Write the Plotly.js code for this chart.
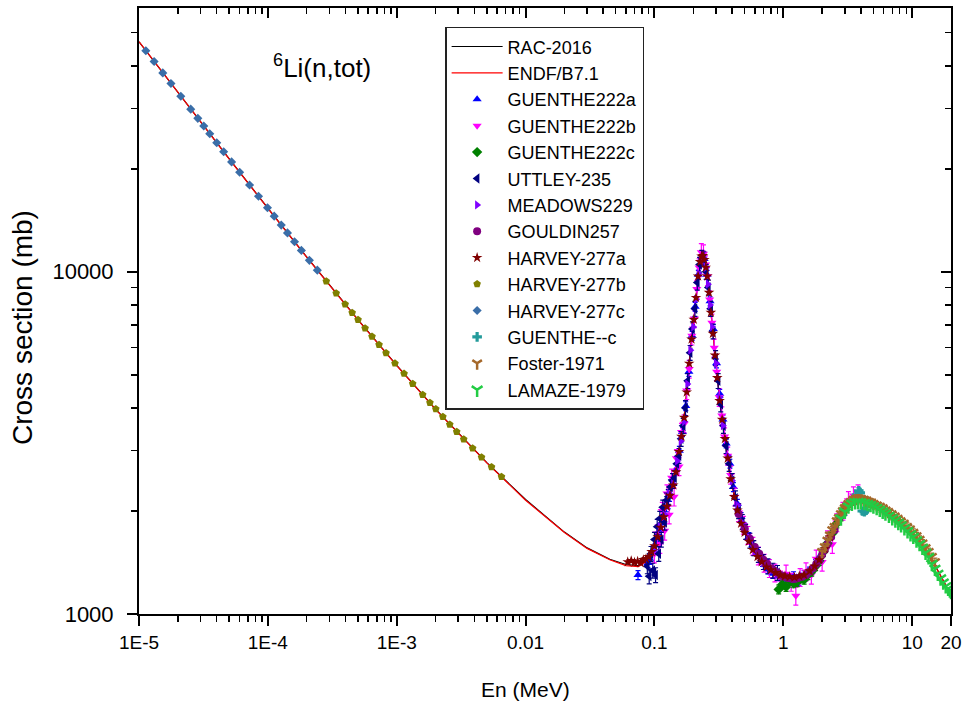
<!DOCTYPE html>
<html>
<head>
<meta charset="utf-8">
<script src="https://cdn.plot.ly/plotly-3.0.1.min.js"></script>
<style>
html,body{margin:0;padding:0;background:#fff;}
#chart{width:968px;height:707px;}
</style>
</head>
<body>
<div id="chart"></div>
<script>
// ---------- evaluated curves ----------
const curveE = [1e-5,2e-5,5e-5,1e-4,2e-4,5e-4,1e-3,2e-3,5e-3,0.01,0.02,0.03,0.045,0.06,0.075,0.09,0.1,0.11,0.12,0.13,0.144,0.157,0.172,0.181,0.191,0.205,0.216,0.225,0.235,0.245,0.259,0.282,0.309,0.343,0.389,0.466,0.597,0.795,1.0,1.13,1.45,1.83,2.19,2.61,3.29,3.94,5.05,7.6,10.9,14.7,18.5,20];
const racSigma = [47000,33440,21400,15340,11050,7250,5330,3970,2770,2160,1735,1560,1445,1395,1385,1440,1560,1750,1970,2180,2460,3080,3870,4830,6040,7590,9480,10700,11200,10800,9480,6760,4830,3450,2470,1850,1510,1345,1295,1283,1300,1410,1614,1846,2112,2154,2055,1884,1646,1409,1200,1165];
const endfSigma = [47050,33400,21380,15330,11040,7240,5320,3960,2765,2150,1730,1555,1440,1385,1375,1435,1555,1745,1965,2175,2455,3075,3860,4820,6030,7580,9470,10690,11190,10790,9470,6750,4820,3445,2465,1848,1508,1343,1293,1281,1298,1408,1612,1844,2110,2150,2052,1880,1643,1405,1198,1162];

// ---------- experimental data ----------
const harvey277cE = [1.13e-5,1.31e-5,1.53e-5,1.77e-5,2.11e-5,2.52e-5,2.86e-5,3.18e-5,3.54e-5,4.01e-5,4.54e-5,5.23e-5,6.04e-5,7.21e-5,8.46e-5,9.93e-5,1.12e-4,1.27e-4,1.42e-4,1.61e-4,1.82e-4,2.10e-4,2.42e-4];
const harvey277cS = [44250,41150,38130,35500,32570,29870,28080,26660,25310,23820,22430,20950,19540,17940,16620,15390,14540,13690,12990,12240,11550,10800,10110];

const harvey277bE = [2.84e-4,3.39e-4,3.98e-4,4.51e-4,5.01e-4,5.68e-4,6.43e-4,7.29e-4,8.26e-4,9.69e-4,1.14e-3,1.33e-3,1.59e-3,1.81e-3,2.01e-3,2.28e-3,2.58e-3,2.92e-3,3.31e-3,3.88e-3,4.55e-3,5.44e-3,6.50e-3];
const harvey277bS = [9390,8650,8040,7590,7240,6840,6470,6120,5790,5400,5040,4710,4370,4140,3970,3770,3580,3410,3240,3050,2870,2690,2520];

const harvey277aE = [0.062,0.066,0.07,0.074,0.078,0.082,0.086,0.09,0.095,0.1,0.106,0.112,0.118,0.125,0.132,0.14,0.147,0.155,0.162,0.17,0.178,0.186,0.194,0.202,0.21,0.218,0.226,0.232,0.238,0.244,0.25,0.257,0.265,0.274,0.284,0.295,0.307,0.32,0.335,0.352,0.37,0.39,0.415,0.44,0.47,0.5,0.54,0.58,0.63,0.68,0.74,0.8,0.87,0.95,1.03,1.12,1.22,1.33,1.45,1.6,1.75,1.9,2.1,2.3];
const harvey277aS = [1420,1430,1415,1425,1410,1440,1450,1470,1520,1580,1680,1790,1920,2060,2220,2380,2600,2980,3300,3750,4450,5400,6350,7250,8400,9700,10700,11100,11150,10850,10300,9700,8700,7600,6600,5700,4900,4200,3700,3250,2850,2480,2200,2010,1840,1730,1630,1540,1470,1420,1370,1345,1320,1300,1290,1285,1280,1290,1300,1335,1380,1440,1550,1680];

const uttleyE = [0.088,0.091,0.094,0.097,0.1,0.102,0.105,0.108,0.11,0.113,0.116,0.12,0.124,0.128,0.133,0.138,0.143,0.149,0.155,0.161,0.167,0.174,0.181,0.189,0.197,0.206,0.215,0.224,0.233,0.242,0.252,0.262,0.273,0.285,0.298,0.312,0.327,0.343,0.36,0.38,0.4,0.425,0.45,0.48,0.51,0.55,0.59,0.64,0.7,0.76,0.83,0.9];
const uttleyS = [1380,1290,1500,1340,1650,1300,1800,1500,1900,1650,2050,1850,2150,2200,2350,2450,2500,2750,2900,3250,3550,4000,4800,5800,6800,7800,9300,10500,11000,10900,10000,9000,7800,6700,5600,4800,4100,3550,3100,2750,2450,2180,2000,1860,1740,1640,1560,1490,1420,1380,1340,1320];

const guenthe222bE = [0.1,0.105,0.11,0.115,0.12,0.125,0.13,0.136,0.142,0.148,0.155,0.162,0.17,0.178,0.186,0.195,0.204,0.213,0.222,0.231,0.24,0.249,0.258,0.268,0.279,0.291,0.304,0.318,0.333,0.35,0.37,0.39,0.42,0.45,0.49,0.53,0.58,0.64,0.71,0.78,0.86,0.95,1.05,1.15,1.25,1.35,1.5,1.65,1.8,2.0,2.2,2.4,2.6,2.9,3.2,3.5,3.8];
const guenthe222bS = [1500,1720,1600,2000,1750,2250,1950,2500,2200,2850,2700,3400,3600,4500,5200,6500,7300,8900,10300,11400,11300,10500,9700,8300,7100,6000,5100,4300,3800,3300,2900,2550,2200,1980,1820,1700,1580,1480,1410,1360,1320,1260,1310,1240,1130,1280,1330,1300,1450,1420,1650,1600,1850,2000,2150,2220,2250];

const guenthe222aE = [0.0745,0.089,0.092,0.098,0.104,0.11,0.117,0.124,0.131,0.139,0.147,0.156,0.165,0.175,0.185,0.196,0.207,0.219,0.231,0.243,0.256,0.27,0.286,0.303,0.321,0.34,0.36,0.385,0.41,0.44,0.47,0.5,0.54,0.58,0.63,0.69,0.76,0.83,0.91,1.0,1.1,1.2,1.32,1.45,1.6,1.78,1.98,2.2,2.45,2.7,3.0];
const guenthe222aS = [1300,1410,1450,1540,1620,1760,1880,2050,2200,2400,2650,3000,3400,4050,5100,6500,7900,9800,10900,10900,9800,8200,6800,5400,4400,3700,3150,2750,2350,2100,1920,1790,1680,1590,1500,1420,1350,1310,1290,1280,1260,1290,1250,1300,1330,1400,1500,1630,1760,1900,2000];

const meadowsE = [0.1,0.11,0.12,0.13,0.14,0.15,0.16,0.17,0.18,0.19,0.2,0.21,0.22,0.23,0.24,0.25,0.26,0.27,0.28,0.3,0.32,0.34,0.37,0.4,0.44,0.48,0.53,0.6,0.7,0.8,0.9,1.0,1.1,1.2,1.3,1.4,1.5];
const meadowsS = [1540,1800,1950,2250,2400,2800,3200,3650,4700,5900,6900,8300,9900,10900,11000,10300,9200,8000,6900,5400,4300,3550,2900,2450,2080,1850,1680,1520,1410,1340,1310,1290,1280,1270,1275,1290,1300];

const gouldinE = [0.45,0.5,0.55,0.6,0.65,0.7,0.75,0.8,0.85,0.9,0.95,1.0,1.05,1.1,1.15,1.2,1.25,1.3,1.4,1.5,1.6,1.7,1.8,1.9,2.0,2.1,2.2,2.35,2.5];
const gouldinS = [1960,1780,1660,1570,1500,1440,1400,1360,1340,1320,1300,1290,1280,1275,1270,1265,1270,1275,1285,1300,1330,1360,1400,1440,1490,1540,1600,1680,1760];

const guenthe222cE = [0.92,0.98,1.05,1.12,1.2,1.28,1.36,1.45,1.55,1.66,1.78,1.9,2.05,2.2,2.4,2.6,2.8,3.0];
const guenthe222cS = [1180,1220,1200,1250,1230,1240,1270,1260,1300,1330,1380,1430,1520,1610,1720,1840,1930,2010];

const fosterE = [2.0,2.1,2.2,2.3,2.4,2.5,2.6,2.7,2.8,2.9,3.0,3.1,3.2,3.35,3.5,3.65,3.8,4.0,4.2,4.4,4.6,4.8,5.0,5.3,5.6,5.9,6.2,6.5,6.9,7.3,7.7,8.1,8.6,9.1,9.6,10.2,10.8,11.4,12.0,12.7,13.4,14.2,15.0];
const fosterS = [1520,1570,1640,1700,1760,1800,1870,1910,1960,2000,2040,2060,2100,2130,2160,2170,2180,2170,2160,2150,2130,2120,2100,2080,2060,2040,2010,1990,1960,1930,1900,1870,1840,1800,1770,1730,1690,1650,1610,1560,1520,1470,1420];

const lamazeE = [2.8,3.0,3.2,3.4,3.6,3.8,4.0,4.25,4.5,4.75,5.0,5.3,5.6,5.9,6.2,6.6,7.0,7.4,7.8,8.2,8.7,9.2,9.7,10.2,10.8,11.4,12.0,12.7,13.4,14.2,15.0,15.8,16.6,17.4,18.2,19.0,19.6,20.0];
const lamazeS = [1900,1990,2060,2100,2120,2125,2120,2110,2095,2080,2060,2040,2015,1990,1965,1935,1905,1875,1845,1815,1780,1745,1710,1680,1640,1600,1560,1510,1465,1400,1355,1310,1270,1235,1205,1185,1170,1160];

const guentheCE = [3.7,3.85,3.95,4.1,4.25,4.4];
const guentheCS = [2230,2290,2260,2000,1990,2010];

// ---------- axis labels ----------
const xTickVals = [1e-5,1e-4,1e-3,0.01,0.1,1,10,20];
const xTickText = ['1E-5','1E-4','1E-3','0.01','0.1','1','10','20'];
const yTickVals = [1000,10000];
const yTickText = ['1000','10000'];

const xMinor = [];
for (let d = -5; d <= 1; d++) for (let m = 2; m <= 9; m++) { const v = m * Math.pow(10, d); if (v < 20) xMinor.push(v); }
const yMinor = [];
for (let d = 3; d <= 4; d++) for (let m = 2; m <= 9; m++) { const v = m * Math.pow(10, d); if (v < 59000) yMinor.push(v); }

const FONT = 'Liberation Sans, Arial, sans-serif';

function pts(name, x, y, color, symbol, size, err) {
  const isLine = symbol.indexOf('y-') === 0;
  const t = {
    type: 'scatter', mode: 'markers', name: name, x: x, y: y,
    marker: {color: color, symbol: symbol, size: size, line: {color: color, width: isLine ? 2.5 : 0}}
  };
  if (err) t.error_y = {type: 'percent', value: err, color: color, thickness: 1.2, width: 2.5};
  return t;
}

const data = [
  {type:'scatter', mode:'lines', name:'RAC-2016', x:curveE, y:racSigma, line:{color:'#000000', width:1.2}},
  {type:'scatter', mode:'lines', name:'ENDF/B7.1', x:curveE, y:endfSigma, line:{color:'#FF0000', width:1.2}},
  pts('GUENTHE222a', guenthe222aE, guenthe222aS, '#0000FF', 'triangle-up', 8, 3),
  pts('GUENTHE222b', guenthe222bE, guenthe222bS, '#FF00FF', 'triangle-down', 8, 6),
  pts('GUENTHE222c', guenthe222cE, guenthe222cS, '#008000', 'diamond', 8, 3),
  pts('UTTLEY-235', uttleyE, uttleyS, '#000080', 'triangle-left', 9, 5),
  pts('MEADOWS229', meadowsE, meadowsS, '#8000FF', 'triangle-right', 8, 0),
  pts('GOULDIN257', gouldinE, gouldinS, '#800080', 'circle', 8, 0),
  pts('HARVEY-277a', harvey277aE, harvey277aS, '#800000', 'star', 8, 0),
  pts('HARVEY-277b', harvey277bE, harvey277bS, '#808000', 'pentagon', 8, 0),
  pts('HARVEY-277c', harvey277cE, harvey277cS, '#3A6EA8', 'diamond', 7, 0),
  pts('GUENTHE--c', guentheCE, guentheCS, '#239B9B', 'cross', 8, 2),
  pts('Foster-1971', fosterE, fosterS, '#A5682A', 'y-down', 8, 2.5),
  pts('LAMAZE-1979', lamazeE, lamazeS, '#22CC44', 'y-down', 9, 0),
  // carriers for the mirrored (inside-tick) top and right axes
  {type:'scatter', mode:'markers', x:[], y:[], xaxis:'x2', yaxis:'y2', showlegend:false, hoverinfo:'skip'}
];

const layout = {
  width: 968, height: 707,
  margin: {l:139, r:17, t:8, b:93},
  paper_bgcolor: '#fff', plot_bgcolor: '#fff',
  font: {family: FONT, color:'#000'},
  showlegend: true,
  xaxis: {
    type:'log', range:[-5, Math.log10(20)],
    tickmode:'array', tickvals:xTickVals, ticktext:xTickText,
    ticks:'outside', ticklen:10, tickwidth:2, tickcolor:'#000',
    showline:true, linewidth:2, linecolor:'#000', mirror:true,
    showgrid:false, zeroline:false,
    tickfont:{family:FONT, size:19, color:'#000'},
    minor:{tickmode:'array', tickvals:xMinor, ticks:'outside', ticklen:6, tickwidth:1.5, tickcolor:'#000', showgrid:false}
  },
  yaxis: {
    type:'log', range:[3, Math.log10(59000)],
    tickmode:'array', tickvals:yTickVals, ticktext:yTickText,
    ticks:'outside', ticklen:10, tickwidth:2, tickcolor:'#000',
    showline:true, linewidth:2, linecolor:'#000', mirror:true,
    showgrid:false, zeroline:false, ticklabelstandoff:9,
    tickfont:{family:FONT, size:22, color:'#000'},
    minor:{tickmode:'array', tickvals:yMinor, ticks:'outside', ticklen:6, tickwidth:1.5, tickcolor:'#000', showgrid:false}
  },
  xaxis2: {
    type:'log', range:[-5, Math.log10(20)], overlaying:'x', side:'top', anchor:'y2',
    tickmode:'array', tickvals:xTickVals, showticklabels:false,
    ticks:'inside', ticklen:10, tickwidth:2, tickcolor:'#000',
    showline:false, showgrid:false, zeroline:false,
    minor:{tickmode:'array', tickvals:xMinor, ticks:'inside', ticklen:6, tickwidth:1.5, tickcolor:'#000', showgrid:false}
  },
  yaxis2: {
    type:'log', range:[3, Math.log10(59000)], overlaying:'y', side:'right', anchor:'x2',
    tickmode:'array', tickvals:yTickVals, showticklabels:false,
    ticks:'inside', ticklen:10, tickwidth:2, tickcolor:'#000',
    showline:false, showgrid:false, zeroline:false,
    minor:{tickmode:'array', tickvals:yMinor, ticks:'inside', ticklen:6, tickwidth:1.5, tickcolor:'#000', showgrid:false}
  },
  legend: {
    x:0.377, y:0.969, xanchor:'left', yanchor:'top',
    bgcolor:'#fff', bordercolor:'#222', borderwidth:1.5,
    font:{family:FONT, size:18, color:'#000'},
    itemwidth:51, tracegroupgap:0
  },
  annotations: [
    {xref:'paper', yref:'paper', x:0.2254, y:0.903, xanchor:'center', yanchor:'middle',
     text:'<sup>6</sup>Li(n,tot)', showarrow:false, font:{family:FONT, size:26, color:'#000'}},
    {xref:'paper', yref:'paper', x:(525-139)/812, y:1-(689-8)/606, xanchor:'center', yanchor:'middle',
     text:'En (MeV)', showarrow:false, font:{family:FONT, size:21, color:'#000'}},
    {xref:'paper', yref:'paper', x:(23-139)/812, y:1-(328-8)/606, xanchor:'center', yanchor:'middle',
     text:'Cross section (mb)', textangle:-90, showarrow:false, font:{family:FONT, size:28, color:'#000'}}
  ]
};

Plotly.newPlot('chart', data, layout, {displayModeBar:false, staticPlot:true});
</script>
</body>
</html>
